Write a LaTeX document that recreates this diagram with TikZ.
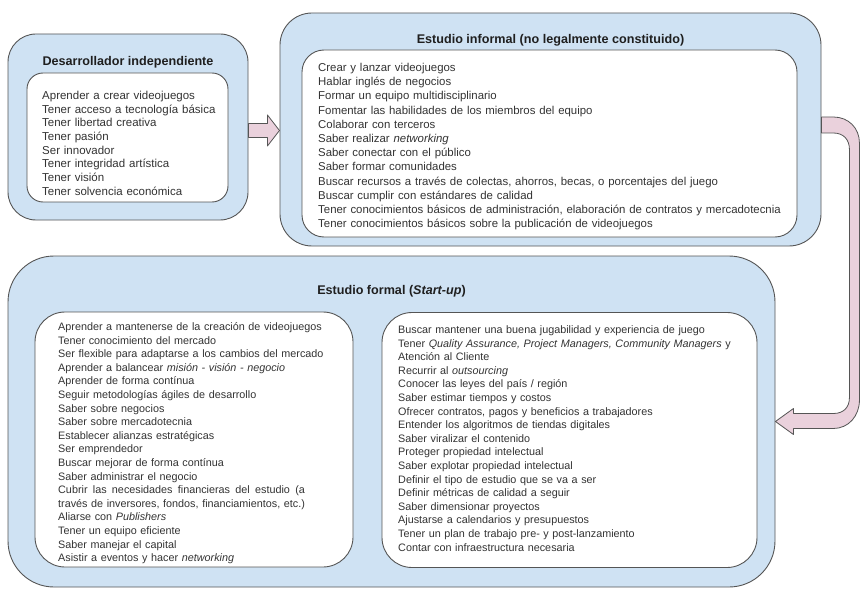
\documentclass[tikz,border=0pt]{standalone}
\usepackage{fontspec}
\setmainfont{Liberation Sans}
\usetikzlibrary{calc}
\definecolor{stagebg}{HTML}{CFE2F3}
\definecolor{flowbg}{HTML}{EAD1DC}
\definecolor{edge}{HTML}{555555}
\definecolor{ink}{HTML}{333333}
\newlength\finwd

\begin{document}
\begin{tikzpicture}[x=1pt, y=-1pt,
    stage/.style={draw=edge, fill=stagebg, line width=0.9pt, inner sep=0pt},
    card/.style={draw=edge, fill=white, line width=0.9pt, inner sep=0pt},
    heading/.style={font=\fontsize{12.6pt}{15pt}\selectfont\bfseries, text=black!88, inner sep=0pt},
    items/.style={font=\fontsize{11.5pt}{13.7pt}\selectfont, text=ink, align=left, anchor=base west, inner sep=0pt},
    small items/.style={items, font=\fontsize{10.8pt}{13.6pt}\selectfont},
    flow/.style={draw=edge, fill=flowbg, line width=0.8pt, line join=round},
]
\useasboundingbox (0,0) rectangle (860,591);

% independent developer
\node[stage, rounded corners=28pt, minimum width=240pt, minimum height=186pt] (dev) at (128,127) {};
\node[card, rounded corners=16pt, minimum width=201pt, minimum height=129pt] (devcard) at (127.5,137.5) {};
\node[heading] (devtitle) at (128,62) {Desarrollador independiente};
\node[items, text width=185pt] (devlist) at (42,99.5) {Aprender a crear videojuegos\\
Tener acceso a tecnología básica\\
Tener libertad creativa\\
Tener pasión\\
Ser innovador\\
Tener integridad artística\\
Tener visión\\
Tener solvencia económica};

% informal studio
\node[stage, rounded corners=32pt, minimum width=541pt, minimum height=233pt] (informal) at (550.5,129.5) {};
\node[card, rounded corners=22pt, minimum width=495pt, minimum height=187pt] (informalcard) at (549.5,143.5) {};
\node[heading] (informaltitle) at (550.5,40) {Estudio informal (no legalmente constituido)};
\node[items, text width=480pt, font=\fontsize{11.4pt}{14.2pt}\selectfont] (informallist) at (318,71.5) {Crear y lanzar videojuegos\\
Hablar inglés de negocios\\
Formar un equipo multidisciplinario\\
Fomentar las habilidades de los miembros del equipo\\
Colaborar con terceros\\
Saber realizar \textit{networking}\\
Saber conectar con el público\\
Saber formar comunidades\\
Buscar recursos a través de colectas, ahorros, becas, o porcentajes del juego\\
Buscar cumplir con estándares de calidad\\
Tener conocimientos básicos de administración, elaboración de contratos y mercadotecnia\\
Tener conocimientos básicos sobre la publicación de videojuegos};

% formal studio
\node[stage, rounded corners=46pt, minimum width=767pt, minimum height=331pt] (formal) at (391.5,421.5) {};
\node[card, rounded corners=30pt, minimum width=318pt, minimum height=255pt] (formalleft) at (194,439.5) {};
\node[card, rounded corners=30pt, minimum width=375pt, minimum height=255pt] (formalright) at (569.5,440) {};
\node[heading] (formaltitle) at (391.5,291) {Estudio formal (\textit{Start-up})};
\node[small items, text width=300pt] (leftlist) at (58,330.5) {\settowidth{\finwd}{través de inversores, fondos, financiamientos, etc.)}%
Aprender a mantenerse de la creación de videojuegos\\
Tener conocimiento del mercado\\
Ser flexible para adaptarse a los cambios del mercado\\
Aprender a balancear \textit{misión - visión - negocio}\\
Aprender de forma contínua\\
Seguir metodologías ágiles de desarrollo\\
Saber sobre negocios\\
Saber sobre mercadotecnia\\
Establecer alianzas estratégicas\\
Ser emprendedor\\
Buscar mejorar de forma contínua\\
Saber administrar el negocio\\
\makebox[\finwd][l]{Cubrir\hfill las\hfill necesidades\hfill financieras\hfill del\hfill estudio\hfill (a}\\
través de inversores, fondos, financiamientos, etc.)\\
Aliarse con \textit{Publishers}\\
Tener un equipo eficiente\\
Saber manejar el capital\\
Asistir a eventos y hacer \textit{networking}};
\node[small items, text width=370pt] (rightlist) at (398,333.5) {Buscar mantener una buena jugabilidad y experiencia de juego\\
Tener \textit{Quality Assurance, Project Managers, Community Managers} y\\
Atención al Cliente\\
Recurrir al \textit{outsourcing}\\
Conocer las leyes del país / región\\
Saber estimar tiempos y costos\\
Ofrecer contratos, pagos y beneficios a trabajadores\\
Entender los algoritmos de tiendas digitales\\
Saber viralizar el contenido\\
Proteger propiedad intelectual\\
Saber explotar propiedad intelectual\\
Definir el tipo de estudio que se va a ser\\
Definir métricas de calidad a seguir\\
Saber dimensionar proyectos\\
Ajustarse a calendarios y presupuestos\\
Tener un plan de trabajo pre- y post-lanzamiento\\
Contar con infraestructura necesaria};

% arrows between stages
\draw[flow] ($(dev.east)+(0,-3.5)$) -- ++(19,0) -- ++(0,-8.5) -- ++(12,15.5)
  -- ++(-12,15.5) -- ++(0,-8.5) -- ++(-19,0) -- cycle;
\draw[flow] (formal.east) -- ++(18,-13) -- ++(0,5) -- ++(40,0)
  .. controls +(10,0) and +(0,10) .. ++(16,-16)
  -- ($(informal.east)+(28,20)$)
  .. controls +(0,-10) and +(10,0) .. ++(-16,-16.5)
  -- ++(-12,0) -- ++(0,-16) -- ++(12,0)
  .. controls +(15,0) and +(0,-15) .. ++(26,26)
  -- ($(formal.east)+(84,-21.5)$)
  .. controls +(0,16) and +(15,0) .. ++(-26,28.5)
  -- ++(-40,0) -- ++(0,6) -- cycle;
\end{tikzpicture}
\end{document}
